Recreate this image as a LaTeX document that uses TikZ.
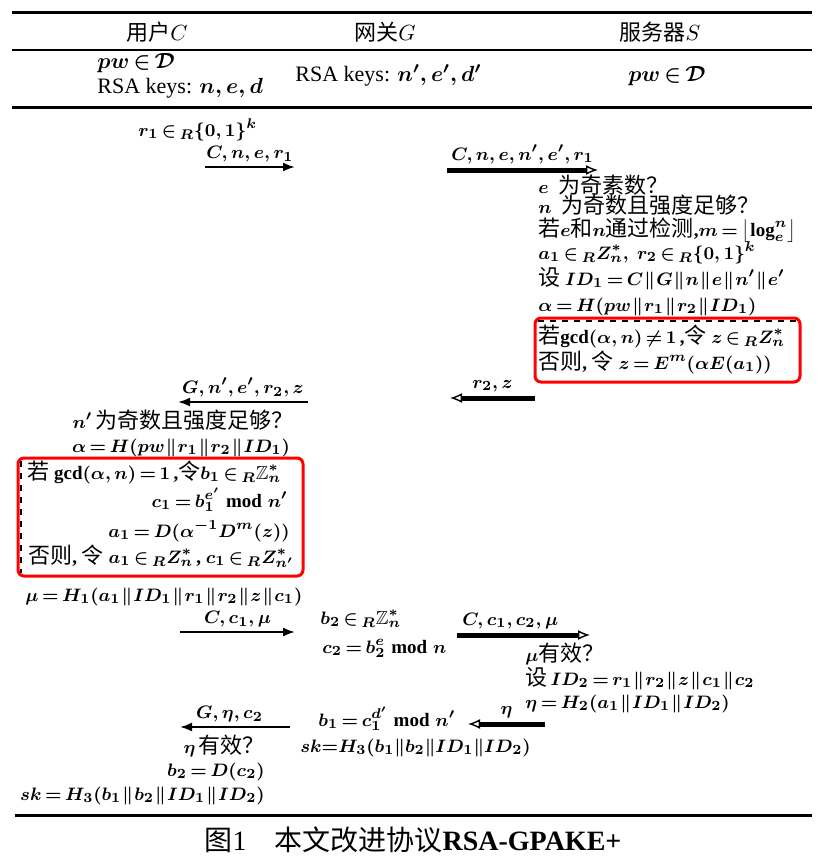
\documentclass[tikz,border=0pt]{standalone}
\usepackage{amsmath,amssymb}
\usepackage{fontspec}
\setmainfont{Liberation Serif}
\newfontfamily\cjk{Noto Sans CJK SC}
\usepackage{tikz}
\usetikzlibrary{arrows.meta,positioning}
\newcommand{\zh}[1]{{\fontsize{11}{13}\selectfont\cjk\mdseries #1}}
\newcommand{\inR}{\in{}_{R}}
\newcommand{\pcat}{\mkern1mu\|\mkern1mu}
\thickmuskip=3mu plus 2mu
\medmuskip=2mu plus 1mu

\begin{document}
\begin{tikzpicture}[x=0.5pt,y=-0.5pt,
    every node/.style={inner sep=0pt},
    font=\fontsize{9.5}{11}\selectfont\bfseries\boldmath,
    lft/.style={anchor=base west},
    rgt/.style={anchor=base east},
    ctr/.style={anchor=base},
    hdr/.style={anchor=base,font=\fontsize{10.5}{13}\selectfont\mdseries\unboldmath},
    keys/.style={font=\fontsize{11}{13}\selectfont\bfseries\boldmath},
    lbl/.style={above=2pt},
    thinmsg/.style={draw,-{Latex[length=6pt,width=4.5pt]},line width=1pt},
    thickmsg/.style={draw,-{Latex[open,length=6pt,width=5pt,line width=0.7pt]},line width=2.5pt},
    redbox/.style={draw=red,line width=1.5pt,rounded corners=3pt},
    rulebar/.style={line width=1.5pt}]
    \useasboundingbox (0,0) rectangle (827,868);
    %table head
    \draw[rulebar] (12,12) -- (812,12);
    \node[hdr] (hc) at (157,40) {\zh{用户}$C$};
    \node[hdr] (hg) at (385,40) {\zh{网关}$G$};
    \node[hdr] (hs) at (660,40) {\zh{服务器}$S$};
    \draw[line width=0.8pt] (12,50) -- (812,50);
    \node[lft,keys] (kc1) at (97,68) {$pw\in\mathcal{D}$};
    \node[lft,keys] (kc2) at (97,93) {\mdseries RSA keys: $n,e,d$};
    \node[lft,keys] (kg) at (295,81) {\mdseries RSA keys: $n',e',d'$};
    \node[ctr,keys] (ks) at (667,81) {$pw\in\mathcal{D}$};
    \draw[rulebar] (12,107) -- (812,107);
    %user C
    \node[lft] (c0) at (138,136) {$r_1\inR\{0,1\}^k$};
    \node[ctr] (c1) at (183,428) {$n'$\,\zh{为奇数且强度足够？}};
    \node[ctr] (c2) at (181,452) {$\alpha=H(pw\pcat r_1\pcat r_2\pcat ID_1)$};
    \node[lft] (c3) at (27,479) {\zh{若}\ $\gcd(\alpha,n)=1$\,,\zh{令}$b_1\inR\mathbb{Z}_n^*$};
    \node[rgt] (c4) at (288,507) {$c_1=b_1^{e'}\bmod n'$};
    \node[rgt] (c5) at (290,537) {$a_1=D(\alpha^{-1}D^m(z))$};
    \node[lft] (c6) at (28,563) {\zh{否则}, \zh{令}\ $a_1\inR Z_n^*$\,, $c_1\inR Z_{n'}^*$};
    \node[lft] (c7) at (25,601) {$\mu=H_1(a_1\pcat ID_1\pcat r_1\pcat r_2\pcat z\pcat c_1)$};
    \node[rgt] (c8) at (265,753) {$\eta$\,\zh{有效？}};
    \node[rgt] (c9) at (265,776) {$b_2=D(c_2)$};
    \node[rgt] (c10) at (265,800) {$sk=H_3(b_1\pcat b_2\pcat ID_1\pcat ID_2)$};
    %gateway G
    \node[lft] (g1) at (320,624) {$b_2\inR\mathbb{Z}_n^*$};
    \node[lft] (g2) at (322,653) {$c_2=b_2^e\bmod n$};
    \node[lft] (g3) at (318,726) {$b_1=c_1^{d'}\bmod n'$};
    \node[lft] (g4) at (300,752) {$sk{=}H_3(b_1\|b_2\|ID_1\|ID_2)$};
    %server S
    \node[lft] (s1) at (538,193) {$e$\ \ \zh{为奇素数？}};
    \node[lft] (s2) at (538,213) {$n$\ \ \zh{为奇数且强度足够？}};
    \node[lft] (s3) at (538,236) {\zh{若}$e$\zh{和}$n$\zh{通过检测},$m=\bigl\lfloor\log_e^{n}\bigr\rfloor$};
    \node[lft] (s4) at (538,259) {$a_1\inR Z_n^*,\ r_2\inR\{0,1\}^k$};
    \node[lft] (s5) at (538,285) {\zh{设}\ $ID_1=C\pcat G\pcat n\pcat e\pcat n'\pcat e'$};
    \node[lft] (s6) at (538,311) {$\alpha=H(pw\pcat r_1\pcat r_2\pcat ID_1)$};
    \node[lft] (s7) at (538,343) {\zh{若}$\gcd(\alpha,n)\neq1$\,,\zh{令}\ $z\inR Z_n^*$};
    \node[lft] (s8) at (538,369) {\zh{否则}, \zh{令}\ $z=E^m(\alpha E(a_1))$};
    \node[lft] (s9) at (525,661) {$\mu$\zh{有效？}};
    \node[lft] (s10) at (525,685) {\zh{设}\,$ID_2=r_1\pcat r_2\pcat z\pcat c_1\pcat c_2$};
    \node[lft] (s11) at (525,708) {$\eta=H_2(a_1\pcat ID_1\pcat ID_2)$};
    %boxes
    \draw[dashed,line width=0.6pt] (538,321) -- (797,321);
    \draw[redbox] (535,318) rectangle (800,382);
    \draw[dashed,line width=0.6pt] (21,461) -- (21,573);
    \draw[redbox] (18,458) rectangle (303,576);
    %messages
    \coordinate (m1a) at (205,167); \coordinate (m1b) at (295,167);
    \coordinate (m2a) at (447,170); \coordinate (m2b) at (598,170);
    \coordinate (m3a) at (535,398); \coordinate (m3b) at (450,398);
    \coordinate (m4a) at (308,402); \coordinate (m4b) at (178,402);
    \coordinate (m5a) at (180,632); \coordinate (m5b) at (295,632);
    \coordinate (m6a) at (457,635); \coordinate (m6b) at (590,635);
    \coordinate (m7a) at (545,724); \coordinate (m7b) at (468,724);
    \coordinate (m8a) at (290,727); \coordinate (m8b) at (180,727);
    \path
     (m1a) edge[thinmsg] node[lbl] {$C,n,e,r_1$} (m1b)
     (m2a) edge[thickmsg] node[lbl] {$C,n,e,n',e',r_1$} (m2b)
     (m3a) edge[thickmsg] node[lbl] {$r_2,z$} (m3b)
     (m4a) edge[thinmsg] node[lbl] {$G,n',e',r_2,z$} (m4b)
     (m5a) edge[thinmsg] node[lbl] {$C,c_1,\mu$} (m5b)
     (m6a) edge[thickmsg] node[lbl,pos=0.4] {$C,c_1,c_2,\mu$} (m6b)
     (m7a) edge[thickmsg] node[lbl] {$\eta$} (m7b)
     (m8a) edge[thinmsg] node[lbl,pos=0.55] {$G,\eta,c_2$} (m8b);
    %bottom
    \draw[rulebar] (15,815) -- (812,815);
    \node[ctr,font=\fontsize{14}{16}\selectfont] (cap) at (413,850) {\zh{\fontsize{14}{16}\selectfont 图}1\quad\zh{\fontsize{14}{16}\selectfont 本文改进协议}\textbf{RSA-GPAKE+}};
\end{tikzpicture}
\end{document}
